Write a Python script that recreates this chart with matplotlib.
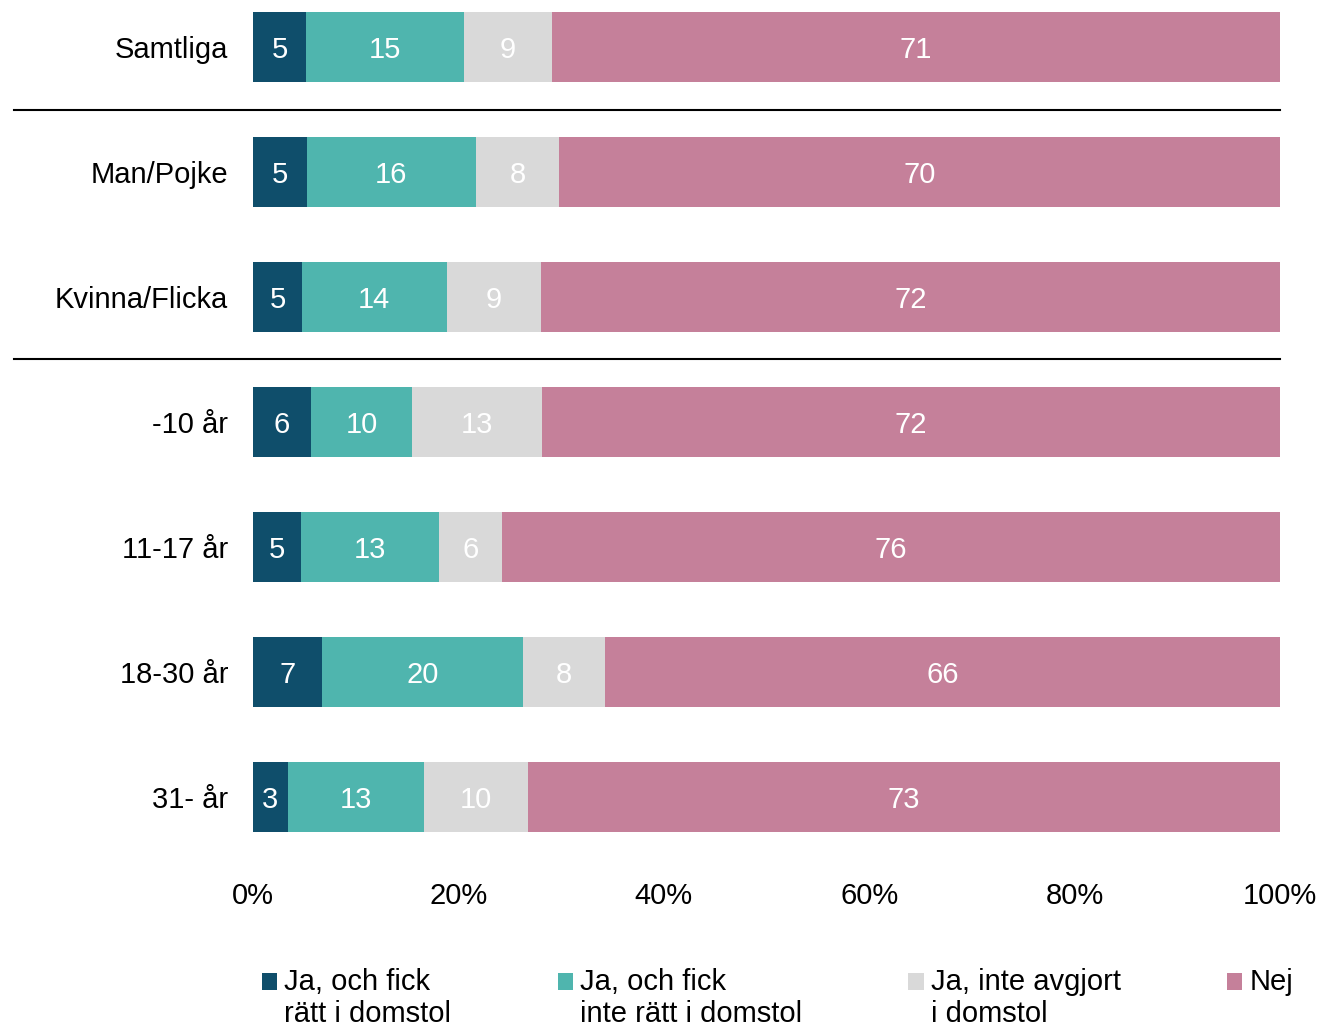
import matplotlib
matplotlib.use("Agg")
import matplotlib.pyplot as plt
from matplotlib.patches import Rectangle
from matplotlib.legend_handler import HandlerPatch

plt.rcParams['font.family'] = ['Liberation Sans', 'DejaVu Sans']

categories = ["Samtliga", "Man/Pojke", "Kvinna/Flicka", "-10 år", "11-17 år", "18-30 år", "31- år"]
series_names = ["Ja, och fick\nrätt i domstol", "Ja, och fick\ninte rätt i domstol",
                "Ja, inte avgjort\ni domstol", "Nej"]
ja_ratt = [5.18, 5.25, 4.77, 5.65, 4.64, 6.69, 3.37]
ja_inte_ratt = [15.38, 16.44, 14.09, 9.83, 13.45, 19.60, 13.24]
ja_inte_avgjort = [8.53, 8.12, 9.15, 12.66, 6.13, 7.95, 10.16]
nej = [70.91, 70.19, 71.99, 71.86, 75.78, 65.76, 73.23]
xticks = [0, 20, 40, 60, 80, 100]
xtick_labels = ["0%", "20%", "40%", "60%", "80%", "100%"]
separators_after = [0, 2]

colors = ["#0F4E6B", "#4FB5AE", "#D9D9D9", "#C5809A"]
series = [ja_ratt, ja_inte_ratt, ja_inte_avgjort, nej]
FS = 21

W, H = 1321, 1027
fig = plt.figure(figsize=(W / 100, H / 100), dpi=100)
# y data -> pixel: px = 47 + 125*y
ytop, ybot = -0.36, 6.6
ax = fig.add_axes([253 / W, 1 - (47 + 125 * ybot) / H, 1027 / W, 125 * (ybot - ytop) / H])

ypos = list(range(len(categories)))
left = [0.0] * len(categories)
handles = []
for vals, col, name in zip(series, colors, series_names):
    tot = [sum(s[i] for s in series) for i in range(len(categories))]
    widths = [v / t * 100 for v, t in zip(vals, tot)]
    bars = ax.barh(ypos, widths, left=left, height=0.565, color=col, label=name, linewidth=0)
    for y, l, w, v in zip(ypos, left, widths, vals):
        ax.text(l + w / 2, y + 0.025, f"{v:.0f}", ha="center", va="center", color="white", fontsize=FS)
    left = [l + w for l, w in zip(left, widths)]
    handles.append(bars)

for s in separators_after:
    ax.plot([-23.3, 100], [s + 0.5, s + 0.5], color="black", lw=1.5, clip_on=False)

ax.set_xlim(0, 100)
ax.set_ylim(ybot, ytop)
ax.set_yticks(ypos)
ax.set_yticklabels(categories, fontsize=FS)
ax.set_xticks(xticks)
ax.set_xticklabels(xtick_labels, fontsize=FS)
ax.tick_params(axis="both", length=0)
ax.tick_params(axis="y", pad=18)
ax.tick_params(axis="x", pad=7)
for sp in ax.spines.values():
    sp.set_visible(False)


class TopHandler(HandlerPatch):
    def create_artists(self, legend, orig_handle, xdescent, ydescent, width, height, fontsize, trans):
        shift = 0.58 * fontsize
        p = Rectangle((-xdescent, -ydescent + shift), width, height, facecolor=orig_handle.get_facecolor(),
                      edgecolor="none", transform=trans)
        return [p]


patches = [h.patches[0] for h in handles]
leg_labels = [n if "\n" in n else n + "\n " for n in series_names]
leg = fig.legend(patches, leg_labels, loc="upper left", bbox_to_anchor=(262 / W, 1 - 968 / H),
                 ncol=4, frameon=False, fontsize=FS, borderpad=0, borderaxespad=0,
                 handlelength=0.52, handleheight=0.52, handletextpad=0.24, columnspacing=3.65,
                 handler_map={Rectangle: TopHandler()}, labelspacing=0.2)
for t in leg.get_texts():
    t.set_linespacing(1.16)

fig.savefig("out.png", dpi=100)
